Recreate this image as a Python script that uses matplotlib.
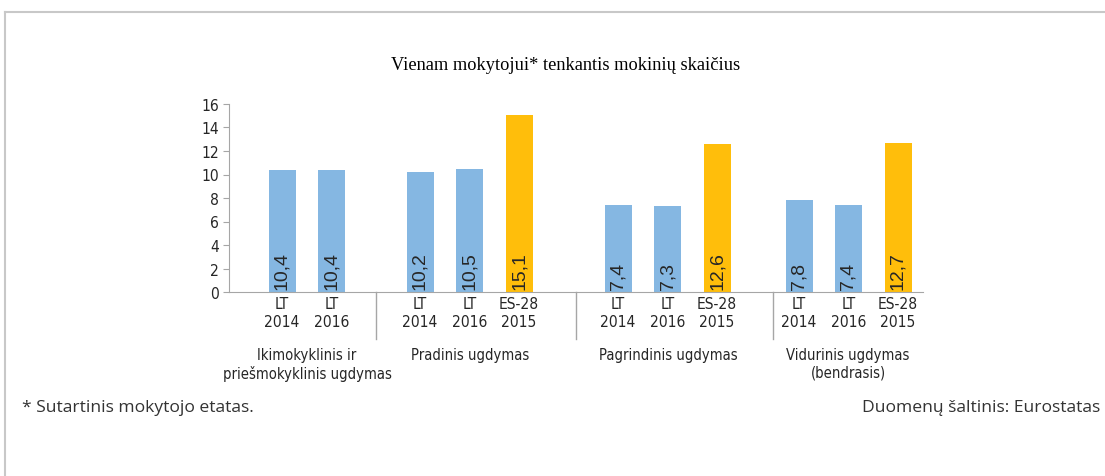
import matplotlib
matplotlib.use("Agg")
import matplotlib.pyplot as plt
import matplotlib.transforms as mtransforms
from matplotlib import font_manager as fm

# ---- data -----------------------------------------------------------------
groups = ["Ikimokyklinis ir\npriešmokyklinis ugdymas",
          "Pradinis ugdymas",
          "Pagrindinis ugdymas",
          "Vidurinis ugdymas\n(bendrasis)"]
tick_labels = [["LT\n2014", "LT\n2016"],
               ["LT\n2014", "LT\n2016", "ES-28\n2015"],
               ["LT\n2014", "LT\n2016", "ES-28\n2015"],
               ["LT\n2014", "LT\n2016", "ES-28\n2015"]]
values = [[10.4, 10.4],
          [10.2, 10.5, 15.1],
          [7.4, 7.3, 12.6],
          [7.8, 7.4, 12.7]]
labels = [["10,4", "10,4"],
          ["10,2", "10,5", "15,1"],
          ["7,4", "7,3", "12,6"],
          ["7,8", "7,4", "12,7"]]

# ---- narrow font if the box has one ---------------------------------------
def pick_narrow():
    for fam, stretch in [("Liberation Sans Narrow", "normal"),
                         ("Liberation Sans", "condensed"),
                         ("DejaVu Sans", "condensed")]:
        fp = fm.FontProperties(family=fam, stretch=stretch)
        try:
            path = fm.findfont(fp, fallback_to_default=False)
        except Exception:
            continue
        low = path.lower()
        if "narrow" in low or "condensed" in low:
            return fm.FontProperties(fname=path), True
    return fm.FontProperties(family="Liberation Sans"), False


NARROW, IS_NARROW = pick_narrow()
TSIZE = 10.6 if IS_NARROW else 9.5

# ---- layout ---------------------------------------------------------------
BLUE = "#85B7E2"
ORANGE = "#FFBE0B"
AXIS = "#A6A6A6"
TXT = "#262626"
group_starts = [0.0, 2.94, 6.94, 10.88]   # separator positions (first = axis)
first_offset = [1.06, 0.88, 0.84, 0.52]
step = 0.99
x_end = 13.88

fig = plt.figure(figsize=(11.05, 4.77), dpi=100)
ax = fig.add_axes([229 / 1105, 184 / 477, 694 / 1105, 188 / 477])

xs, xl = [], []
for gi, vals in enumerate(values):
    pos = [group_starts[gi] + first_offset[gi] + i * step for i in range(len(vals))]
    cols = [ORANGE if t.startswith("ES") else BLUE for t in tick_labels[gi]]
    ax.bar(pos, vals, width=0.54, color=cols, zorder=2)
    for p, lab in zip(pos, labels[gi]):
        ax.text(p, 0.25, lab, rotation=90, ha="center", va="bottom",
                fontsize=14, family=["Liberation Sans", "DejaVu Sans"],
                color=TXT, zorder=3)
    xs += pos
    xl += tick_labels[gi]

ax.set_xlim(0, x_end)
ax.set_ylim(0, 16)
ax.set_yticks(range(0, 17, 2))
ax.set_xticks(xs, xl)
for t in ax.get_xticklabels() + ax.get_yticklabels():
    t.set_fontproperties(NARROW)
    t.set_fontsize(TSIZE + 0.6)
    t.set_color(TXT)
ax.tick_params(axis="x", length=0, pad=3)
ax.tick_params(axis="y", length=4, color=AXIS, pad=3)
for s in ["top", "right"]:
    ax.spines[s].set_visible(False)
ax.spines["left"].set_color(AXIS)
ax.spines["bottom"].set_color(AXIS)

trans = mtransforms.blended_transform_factory(ax.transData, ax.transAxes)
for sx in group_starts[1:]:
    ax.plot([sx, sx], [0, -0.25], color=AXIS, lw=1, transform=trans, clip_on=False)

centers = [1.56, 4.82, 8.78, 12.38]
for c, g in zip(centers, groups):
    t = ax.text(c, -0.29, g, transform=trans, ha="center", va="top",
                color=TXT, linespacing=1.25)
    t.set_fontproperties(NARROW)
    t.set_fontsize(TSIZE)

# ---- texts and frame ------------------------------------------------------
fig.text(566 / 1105, 1 - 66 / 477, "Vienam mokytojui* tenkantis mokinių skaičius",
         ha="center", va="center", fontsize=13.2, family="Liberation Serif")
fig.text(22 / 1105, 1 - 408 / 477, "* Sutartinis mokytojo etatas.",
         ha="left", va="center", fontsize=12.6, family="Open Sans", color="#333333")
fig.text(862 / 1105, 1 - 408 / 477, "Duomenų šaltinis: Eurostatas",
         ha="left", va="center", fontsize=12.6, family="Open Sans", color="#333333")

fig.add_artist(plt.Line2D([5 / 1105, 1], [1 - 13 / 477] * 2, color="#C8C8C8", lw=1.5))
fig.add_artist(plt.Line2D([5 / 1105] * 2, [0, 1 - 13 / 477], color="#C8C8C8", lw=1.5))

fig.savefig("out.png", dpi=100)
